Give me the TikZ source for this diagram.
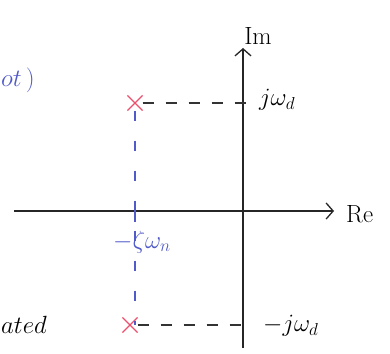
\documentclass[tikz,border=0pt]{standalone}
\usepackage{amsmath}
\usepackage{xcolor}
\usepackage{tikz}
\usetikzlibrary{arrows.meta,positioning,shapes.misc}

\definecolor{tinta}{RGB}{80,90,200}
\definecolor{polocol}{RGB}{235,80,110}

\begin{document}
\begin{tikzpicture}[x=1pt,y=-1pt,>={Straight Barb[length=7pt,width=16pt,line width=1.3pt]},
  eje/.style={line width=1.4pt,black!85},
  polo/.style={cross out,draw=polocol,line width=1.2pt,minimum size=14pt,inner sep=0pt},
  guia/.style={dash pattern=on 11pt off 12pt,line width=1.2pt},
  etiq/.style={font=\fontsize{25}{28}\selectfont,inner sep=1pt}]
\useasboundingbox (0,0) rectangle (390,353);
\coordinate (origen) at (243,211);
\coordinate (izq) at (14,211);
\coordinate (der) at (334,211);
\coordinate (abajo) at (243,348);
\coordinate (arriba) at (243,48);
\node[polo] (polo1) at (135,103) {};
\node[polo] (polo2) at (130,325) {};
% ejes
\draw[eje,->] (izq)--(der);
\draw[eje,->] (abajo)--(arriba);
% proyecciones
\draw[guia,black!80] (polo1)--([xshift=4pt]polo1 -| origen);
\draw[guia,black!80] (polo2)--([xshift=4pt]polo2 -| origen);
\draw[guia,tinta,dash pattern=on 10pt off 20pt] (polo1)--(polo1 |- polo2);
\draw[line width=2pt,tinta] (135,203)--(135,222);
% etiquetas
\node[etiq,anchor=south] (im) at (258,46) {$\mathrm{Im}$};
\node[etiq,anchor=west] (re) at (345,214) {$\mathrm{Re}$};
\node[etiq,anchor=west] (wd) at (258,100) {$j\omega_d$};
\node[etiq,anchor=west] (menoswd) at (262,326) {$-j\omega_d$};
\node[etiq,text=tinta] (sigma) at (142,242) {$-\zeta\omega_n$};
\node[etiq,anchor=west,text=tinta] (raiz) at (0,80) {$ot\,)$};
\node[etiq,anchor=west] (resto) at (0,325) {$ated$};
\end{tikzpicture}
\end{document}
